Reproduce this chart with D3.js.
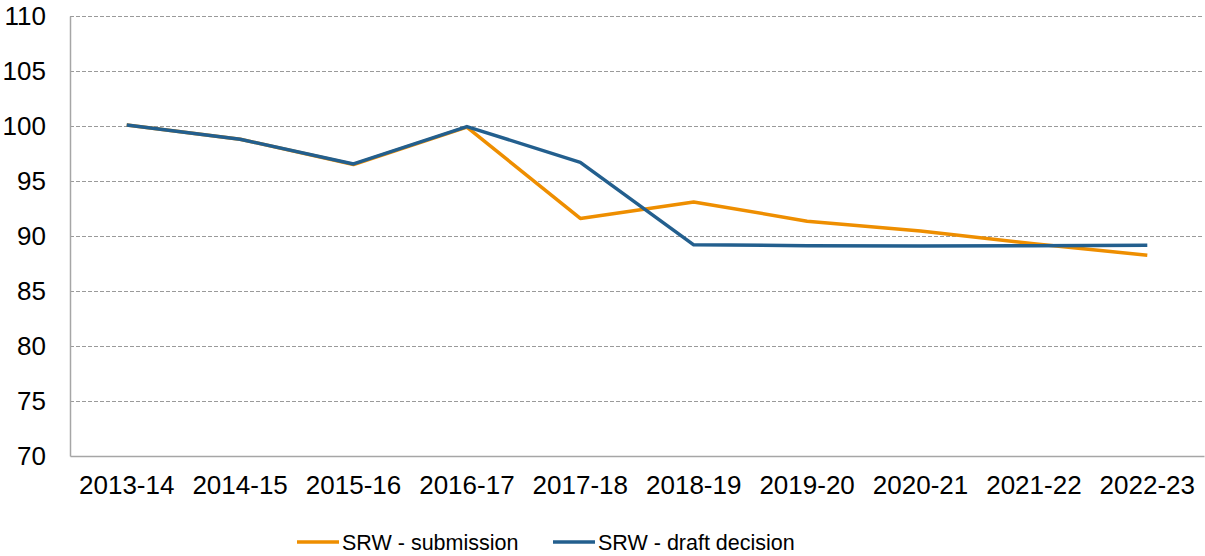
<!DOCTYPE html>
<html>
<head>
<meta charset="utf-8">
<script src="https://cdn.jsdelivr.net/npm/d3@7"></script>
<style>
	body { margin: 0; background: #fff; }
	svg { display: block; font-family: "Liberation Sans", Arial, sans-serif; }
</style>
</head>
<body>
<script>
var years = ["2013-14", "2014-15", "2015-16", "2016-17", "2017-18", "2018-19", "2019-20", "2020-21", "2021-22", "2022-23"];
var submission = [100.1, 98.8, 96.5, 99.9, 91.6, 93.1, 91.35, 90.45, 89.3, 88.25];
var draftDecision = [100.1, 98.8, 96.55, 99.95, 96.7, 89.2, 89.12, 89.1, 89.12, 89.15];
var yTicks = [70, 75, 80, 85, 90, 95, 100, 105, 110];

var series = [
	{name: "SRW - submission", values: submission, color: "#EE8E00"},
	{name: "SRW - draft decision", values: draftDecision, color: "#235F8E"}
];

var W = 1205, H = 556;
var margin = {left: 70, right: 1204, top: 16, bottom: 456};

var svg = d3.select("body").append("svg")
	.attr("width", W)
	.attr("height", H);

var x = d3.scaleBand().domain(years).range([margin.left, margin.right]);
var y = d3.scaleLinear().domain([70, 110]).range([margin.bottom, margin.top]);

// gridlines
svg.append("g")
	.selectAll("line")
	.data(yTicks.filter(function(d) { return d > 70; }))
	.enter().append("line")
	.attr("x1", margin.left).attr("x2", margin.right)
	.attr("y1", function(d) { return y(d) + 0.5; })
	.attr("y2", function(d) { return y(d) + 0.5; })
	.attr("stroke", "#9a9a9a")
	.attr("stroke-width", 1)
	.attr("stroke-dasharray", "4,2");

// y axis
var yAxis = svg.append("g")
	.attr("transform", "translate(" + margin.left + ",0)")
	.call(d3.axisLeft(y).tickValues(yTicks).tickSize(0).tickPadding(24));
yAxis.select(".domain").attr("stroke", "#a6a6a6").attr("stroke-width", 1.5);
yAxis.selectAll("text").style("font-size", "26px").attr("fill", "#000");

// x axis
var xAxis = svg.append("g")
	.attr("transform", "translate(0," + margin.bottom + ")")
	.call(d3.axisBottom(x).tickSize(0).tickPadding(20));
xAxis.select(".domain").attr("stroke", "#a6a6a6").attr("stroke-width", 1.5);
xAxis.selectAll("text").style("font-size", "26px").attr("fill", "#000");

var line = d3.line()
	.x(function(d, i) { return x(years[i]) + x.bandwidth() / 2; })
	.y(function(d) { return y(d); });

svg.append("g")
	.selectAll("path")
	.data(series)
	.enter().append("path")
	.attr("d", function(d) { return line(d.values); })
	.attr("fill", "none")
	.attr("stroke", function(d) { return d.color; })
	.attr("stroke-width", 3.5)
	.attr("stroke-linejoin", "round");

// legend
var legendPos = [297, 553];
var legend = svg.append("g")
	.selectAll("g")
	.data(series)
	.enter().append("g")
	.attr("transform", function(d, i) { return "translate(" + legendPos[i] + ",542)"; });
legend.append("line")
	.attr("x1", 0).attr("x2", 42)
	.attr("stroke", function(d) { return d.color; })
	.attr("stroke-width", 3.5);
legend.append("text")
	.attr("x", 45)
	.attr("dy", "0.36em")
	.style("font-size", "21.5px")
	.text(function(d) { return d.name; });
</script>
</body>
</html>
